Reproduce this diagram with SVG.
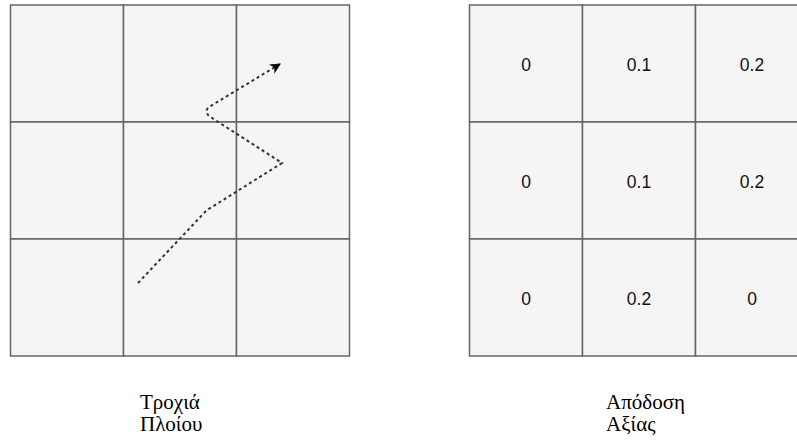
<svg xmlns="http://www.w3.org/2000/svg" width="797" height="442" viewBox="0 0 797 442">
<defs>
<style>
.cell{fill:#f5f5f5;stroke:#666666;stroke-width:1.5}
.val{font-family:"Liberation Sans",Arial,sans-serif;font-size:17.5px;fill:#111111;text-anchor:middle}
.lbl{font-family:"Liberation Serif","Times New Roman",serif;font-size:21px;fill:#000}
.traj{fill:none;stroke:#333333;stroke-width:2;stroke-dasharray:3 3}
</style>
<marker id="ah" viewBox="0 0 10 10" refX="9" refY="5" markerWidth="5.5" markerHeight="5.5" orient="auto" markerUnits="strokeWidth">
<path d="M0,0 L10,5 L0,10 L3,5 Z" fill="#000"/>
</marker>
</defs>
<rect width="797" height="442" fill="#ffffff"/>
<g id="trajectory-grid">
<rect class="cell" x="10.5" y="5" width="113" height="117"/>
<rect class="cell" x="123.5" y="5" width="113" height="117"/>
<rect class="cell" x="236.5" y="5" width="113" height="117"/>
<rect class="cell" x="10.5" y="122" width="113" height="117"/>
<rect class="cell" x="123.5" y="122" width="113" height="117"/>
<rect class="cell" x="236.5" y="122" width="113" height="117"/>
<rect class="cell" x="10.5" y="239" width="113" height="117"/>
<rect class="cell" x="123.5" y="239" width="113" height="117"/>
<rect class="cell" x="236.5" y="239" width="113" height="117"/>
</g>
<g id="value-grid">
<rect class="cell" x="469.5" y="5" width="113" height="117"/>
<rect class="cell" x="582.5" y="5" width="113" height="117"/>
<rect class="cell" x="695.5" y="5" width="113" height="117"/>
<rect class="cell" x="469.5" y="122" width="113" height="117"/>
<rect class="cell" x="582.5" y="122" width="113" height="117"/>
<rect class="cell" x="695.5" y="122" width="113" height="117"/>
<rect class="cell" x="469.5" y="239" width="113" height="117"/>
<rect class="cell" x="582.5" y="239" width="113" height="117"/>
<rect class="cell" x="695.5" y="239" width="113" height="117"/>
<text class="val" x="526" y="70.5">0</text>
<text class="val" x="639" y="70.5">0.1</text>
<text class="val" x="752" y="70.5">0.2</text>
<text class="val" x="526" y="187.5">0</text>
<text class="val" x="639" y="187.5">0.1</text>
<text class="val" x="752" y="187.5">0.2</text>
<text class="val" x="526" y="304.5">0</text>
<text class="val" x="639" y="304.5">0.2</text>
<text class="val" x="752" y="304.5">0</text>
</g>
<g id="connectors">
<path class="traj" d="M138,283 L205,212 Q208,209 212,207 L282,163 L209,116 Q204,111 209,107 L280,64" marker-end="url(#ah)"/>
</g>
<g id="label-left">
<text class="lbl" x="140" y="409">Τροχιά</text>
<text class="lbl" x="140" y="431">Πλοίου</text>
</g>
<g id="label-right">
<text class="lbl" x="606" y="409">Απόδοση</text>
<text class="lbl" x="606" y="431">Αξίας</text>
</g>
</svg>
